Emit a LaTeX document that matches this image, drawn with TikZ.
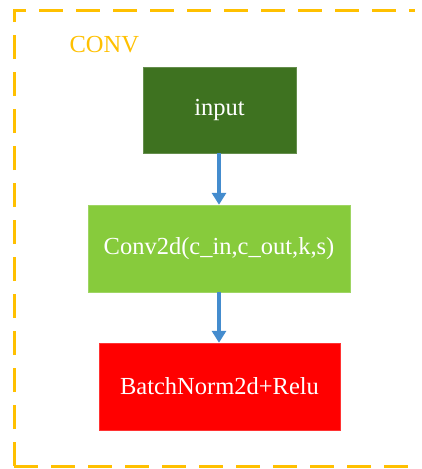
\documentclass[tikz,border=0pt]{standalone}
\usepackage{fontspec}
\setmainfont{Liberation Serif}
\usetikzlibrary{arrows.meta}
\definecolor{gold}{RGB}{255,192,0}
\definecolor{darkgr}{RGB}{62,114,32}
\definecolor{lightgr}{RGB}{135,203,60}
\definecolor{arrblue}{RGB}{68,140,206}
\tikzset{
  blk/.style={rectangle, inner sep=0pt, text=white, font=\fontsize{24.5}{28}\selectfont, minimum height=87pt},
  frame/.style={gold, line width=3pt, dash pattern=on 24pt off 13pt},
  flow/.style={draw=arrblue, line width=4pt, -{Triangle[width=14pt,length=12pt]}}
}
\begin{document}
\begin{tikzpicture}[x=1pt,y=-1pt]
\useasboundingbox (0,0) rectangle (422,469);
\draw[frame] (14,466) -- (14,10) -- (415,10);
\draw[frame] (14,466) -- (415,466);
\node[text=gold, font=\fontsize{24.5}{28}\selectfont, anchor=west] (lbl) at (66,45) {CONV};
\node[blk, fill=darkgr, draw=darkgr!80!white, minimum width=153pt, minimum height=86pt] (inp) at (219.5,110) {input};
\node[blk, fill=lightgr, draw=lightgr!80!white, minimum width=262pt] (conv) at (219,248.5) {Conv2d(c\_in,c\_out,k,s)};
\node[blk, fill=red, draw=red!80!white, minimum width=241pt] (bn) at (219.5,386.5) {BatchNorm2d+Relu};
\draw[flow] (inp.south -| conv.north) -- (conv.north);
\draw[flow] (conv.south) -- (bn.north -| conv.south);
\end{tikzpicture}
\end{document}
